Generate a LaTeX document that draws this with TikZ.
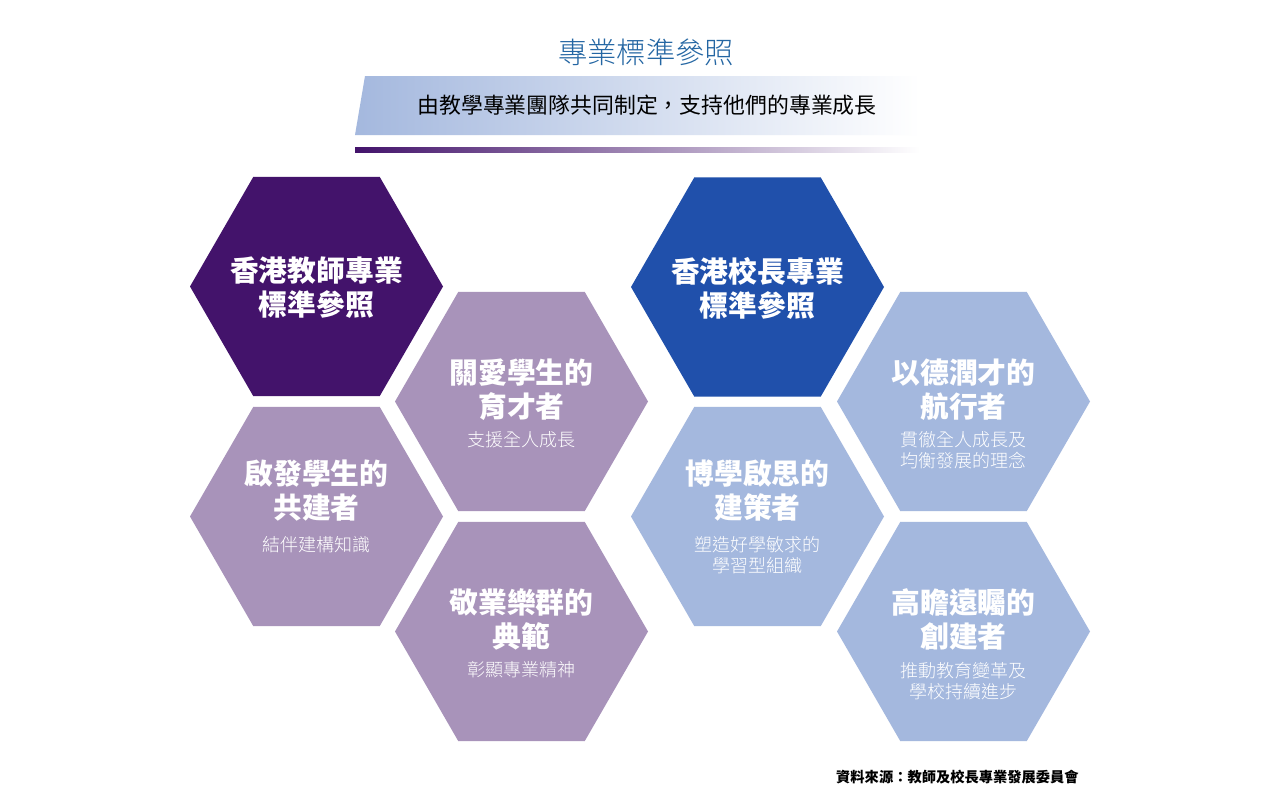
\documentclass[tikz,border=0pt]{standalone}
\usepackage{fontspec}
\newfontfamily\cjk{Noto Sans CJK TC}
\newfontfamily\cjklight{Noto Sans CJK TC Light}
\usetikzlibrary{shapes.geometric,calc,backgrounds}
\definecolor{tpurple}{HTML}{43136B}
\definecolor{lpurple}{HTML}{A893BA}
\definecolor{tblue}{HTML}{2050AB}
\definecolor{lblue}{HTML}{A4B8DE}
\definecolor{bargray}{HTML}{B0B0B0}
\definecolor{titleblue}{HTML}{2466A3}
\tikzset{
  hex/.style={regular polygon, regular polygon sides=6, minimum size=189.75pt, inner sep=0pt, outer sep=0pt, draw=none},
  bar/.style={draw=bargray, line width=9pt},
  ttl/.style={text=white, align=center, inner sep=0pt, font=\cjk\bfseries\fontsize{21.6}{25.5}\selectfont},
  sub/.style={text=white, align=center, inner sep=0pt, font=\cjklight\fontsize{13.5}{15.75}\selectfont},
}
\begin{document}
\begin{tikzpicture}[x=0.75pt,y=-0.75pt]
\useasboundingbox (0,0) rectangle (1280,800);
\fill[white] (0,0) rectangle (1280,800);

% title and banner
\node[text=titleblue, inner sep=0pt, font=\cjklight\fontsize{22}{26}\selectfont] (title) at (646,52) {專業標準參照};
\shade[left color=lblue, right color=white] (365,76) -- (920,76) -- (920,135) -- (355,135) -- cycle;
\node[inner sep=0pt, font=\cjk\fontsize{16.4}{20}\selectfont] (banner) at (647,105) {由教學專業團隊共同制定，支持他們的專業成長};
\shade[left color=tpurple, right color=white] (355,147) rectangle (920,152);

% hexagons
\node[hex, fill=tpurple] (h1) at (316.5,286.5) {};
\node[hex, fill=lpurple] (h2) at (521.5,401.5) {};
\node[hex, fill=lpurple] (h3) at (316.5,516.5) {};
\node[hex, fill=lpurple] (h4) at (521.5,631.5) {};
\node[hex, fill=tblue]   (h5) at (757.5,287) {};
\node[hex, fill=lblue]   (h6) at (963.5,401.5) {};
\node[hex, fill=lblue]   (h7) at (757.5,516.5) {};
\node[hex, fill=lblue]   (h8) at (963.5,631.5) {};

% connectors
\begin{scope}[on background layer]
\draw[bar] (h1) -- (h3);
\draw[bar] (h2) -- (h4);
\draw[bar] ($(h1)+(0,49.5)$) -- ($(h2)+(0,-65.5)$);
\draw[bar] (h5) -- (h7);
\draw[bar] (h6) -- (h8);
\draw[bar] ($(h5)+(0,56)$) -- ($(h6)+(0,-58.5)$);
\end{scope}

% texts left group
\node[ttl] (t1) at (316.5,288) {香港教師專業\\標準參照};
\node[ttl] (t2) at (521.5,390) {關愛學生的\\育才者};
\node[sub] (s2) at (521.5,440) {支援全人成長};
\node[ttl] (t3) at (316.5,491) {啟發學生的\\共建者};
\node[sub] (s3) at (316.5,545) {結伴建構知識};
\node[ttl] (t4) at (521.5,619.5) {敬業樂群的\\典範};
\node[sub] (s4) at (521.5,670) {彰顯專業精神};

% texts right group
\node[ttl] (t5) at (757.5,288) {香港校長專業\\標準參照};
\node[ttl] (t6) at (963.5,390) {以德潤才的\\航行者};
\node[sub] (s6) at (963.5,450.5) {貫徹全人成長及\\均衡發展的理念};
\node[ttl] (t7) at (757.5,491) {博學啟思的\\建策者};
\node[sub] (s7) at (757.5,555) {塑造好學敏求的\\學習型組織};
\node[ttl] (t8) at (963.5,619.5) {高瞻遠矚的\\創建者};
\node[sub] (s8) at (963.5,681.5) {推動教育變革及\\學校持續進步};

% source
\node[anchor=east, inner sep=0pt, font=\cjk\bfseries\fontsize{10.7}{13}\selectfont] (src) at (1079,777) {資料來源：教師及校長專業發展委員會};
\end{tikzpicture}
\end{document}
